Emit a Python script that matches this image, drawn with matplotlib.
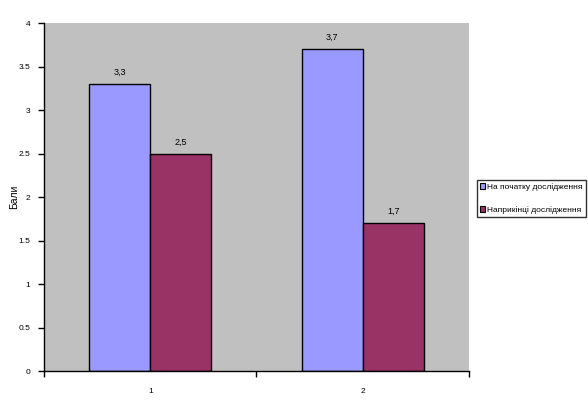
import numpy as np
import matplotlib
matplotlib.use("Agg")
import matplotlib.pyplot as plt
from matplotlib.patches import Patch

plt.rcParams["font.family"] = ["Liberation Sans", "DejaVu Sans"]

categories = ["1", "2"]
start_values = [3.3, 3.7]
end_values = [2.5, 1.7]
series_names = ["На початку дослідження", "Наприкінці дослідження"]
colors = ["#9999FF", "#993366"]
y_ticks = [0, 0.5, 1, 1.5, 2, 2.5, 3, 3.5, 4]

fig = plt.figure(figsize=(5.88, 4.11), dpi=100)
ax = fig.add_axes([0.0748, 0.0973, 0.7228, 0.8467])
ax.set_facecolor("#C0C0C0")

x = np.arange(len(categories))
w = 0.288
for vals, offs, col in [(start_values, -w / 2, colors[0]), (end_values, w / 2, colors[1])]:
    bars = ax.bar(x + offs, vals, w, color=col, edgecolor="black", linewidth=1, zorder=2)
    for b, v in zip(bars, vals):
        ax.text(b.get_x() + b.get_width() / 2, v + 0.08, f"{v:.1f}".replace(".", ","),
                ha="center", va="bottom", fontsize=6.5, color="#000000")

ax.set_xlim(-0.5, 1.5)
ax.set_ylim(0, 4)
ax.set_yticks(y_ticks)
ax.set_yticklabels([f"{t:g}" for t in y_ticks], fontsize=6)
ax.set_xticks([-0.5, 0.5, 1.5])
ax.set_xticklabels([])
ax.set_xticks(x, minor=True)
ax.set_xticklabels(categories, minor=True, fontsize=6)
ax.tick_params(axis="x", which="minor", length=0, pad=12)
ax.tick_params(axis="x", which="major", length=4, width=1, direction="out")
ax.tick_params(axis="y", length=4, width=1, direction="out", pad=6)

for s in ["top", "right"]:
    ax.spines[s].set_visible(False)
ax.spines["left"].set_linewidth(1)
ax.spines["bottom"].set_linewidth(1)

ax.set_ylabel("Бали", fontsize=7.5)
ax.yaxis.set_label_coords(-0.058, 0.5)

handles = [Patch(facecolor=c, edgecolor="black", linewidth=0.8) for c in colors]
leg = fig.legend(handles, series_names, loc="center left", bbox_to_anchor=(0.811, 0.517),
                 fontsize=6, frameon=True, fancybox=False, edgecolor="black",
                 handlelength=0.6, handleheight=0.6, handletextpad=0.2,
                 borderpad=0.4, labelspacing=1.8, borderaxespad=0)
leg.get_frame().set_linewidth(1)

fig.savefig("out.png", dpi=100, facecolor="white")
